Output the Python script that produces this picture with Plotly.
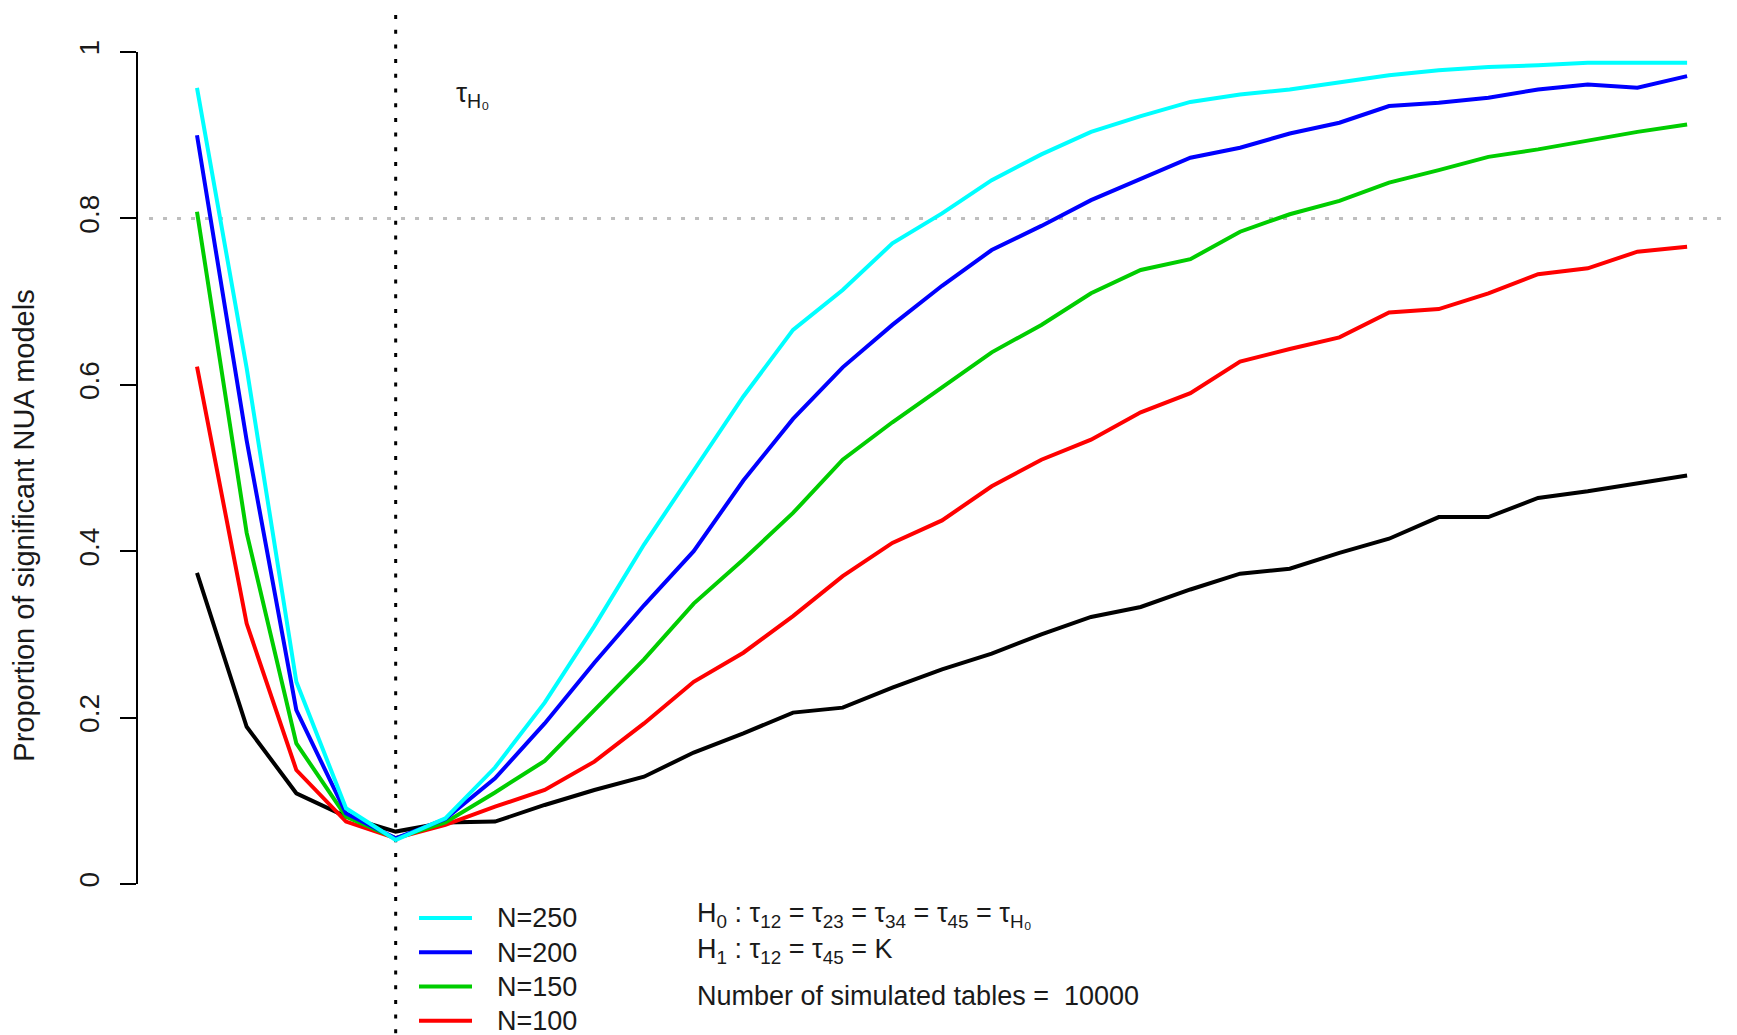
import plotly.graph_objects as go

# ---- data ----
STEP = [0, 1, 2, 3, 4, 5, 6, 7, 8, 9, 10, 11, 12, 13, 14, 15, 16, 17, 18, 19,
        20, 21, 22, 23, 24, 25, 26, 27, 28, 29, 30]

N250 = [0.957, 0.620, 0.243, 0.091, 0.053, 0.079, 0.140, 0.218, 0.310, 0.408,
        0.497, 0.586, 0.666, 0.714, 0.770, 0.806, 0.846, 0.877, 0.904, 0.923,
        0.940, 0.949, 0.955, 0.963, 0.972, 0.978, 0.982, 0.984, 0.987, 0.987, 0.987]
N200 = [0.900, 0.533, 0.209, 0.085, 0.055, 0.078, 0.127, 0.193, 0.266, 0.335,
        0.400, 0.485, 0.559, 0.621, 0.672, 0.719, 0.762, 0.791, 0.822, 0.847,
        0.873, 0.885, 0.902, 0.915, 0.935, 0.939, 0.945, 0.955, 0.961, 0.957, 0.971]
N150 = [0.808, 0.422, 0.169, 0.081, 0.055, 0.074, 0.110, 0.148, 0.209, 0.270,
        0.337, 0.390, 0.446, 0.510, 0.555, 0.597, 0.639, 0.672, 0.710, 0.738,
        0.751, 0.784, 0.805, 0.821, 0.843, 0.858, 0.874, 0.883, 0.894, 0.904, 0.913]
N100 = [0.622, 0.313, 0.137, 0.075, 0.055, 0.071, 0.093, 0.113, 0.147, 0.193,
        0.243, 0.278, 0.322, 0.370, 0.410, 0.437, 0.478, 0.510, 0.534, 0.567,
        0.590, 0.628, 0.643, 0.657, 0.687, 0.691, 0.710, 0.733, 0.740, 0.760, 0.766]
N50 = [0.374, 0.189, 0.109, 0.081, 0.063, 0.074, 0.075, 0.095, 0.113, 0.129,
       0.158, 0.181, 0.206, 0.212, 0.236, 0.258, 0.277, 0.300, 0.321, 0.333,
       0.354, 0.373, 0.379, 0.398, 0.415, 0.441, 0.441, 0.464, 0.472, 0.482, 0.491]

TAU_H0_STEP = 4
POWER_TARGET = 0.8
Y_TICKS = [0, 0.2, 0.4, 0.6, 0.8, 1]
Y_TICK_LABELS = ["0", "0.2", "0.4", "0.6", "0.8", "1"]

SERIES = [
    ("N=50", N50, "#000000", False),
    ("N=100", N100, "#FF0000", True),
    ("N=150", N150, "#00CD00", True),
    ("N=200", N200, "#0000FF", True),
    ("N=250", N250, "#00FFFF", True),
]

FONT = "Liberation Sans, Arial, sans-serif"
TXT = "#1a1a1a"

fig = go.Figure()
for name, vals, color, show in SERIES:
    label = "\u00a0\u00a0\u00a0<span style='font-size:27px'>" + name + "</span>"
    fig.add_trace(go.Scatter(
        x=STEP, y=vals, mode="lines", name=label, showlegend=show,
        line=dict(color=color, width=4),
        hoverinfo="skip",
    ))

# reference lines
fig.add_shape(type="line", xref="x", yref="y", x0=-0.966, x1=31.5,
              y0=POWER_TARGET, y1=POWER_TARGET,
              line=dict(color="#BEBEBE", width=3, dash="4px,10px"), layer="below")
fig.add_shape(type="line", xref="x", yref="y", x0=TAU_H0_STEP, x1=TAU_H0_STEP,
              y0=1.0445, y1=-0.25,
              line=dict(color="#000000", width=3, dash="4px,10.7px"), layer="below")
# R-style axis line spanning only the tick range
fig.add_shape(type="line", xref="paper", yref="y", x0=0, x1=0, y0=0, y1=1,
              line=dict(color="#000000", width=2))

fig.add_annotation(x=TAU_H0_STEP + 1.54, y=0.9495, xref="x", yref="y",
                   text="τ<sub>H₀</sub>", showarrow=False,
                   font=dict(family=FONT, size=28, color=TXT))

PLOT_W = 1737 - 129
notes = [
    "H<sub>0</sub> : τ<sub>12</sub> = τ<sub>23</sub> = τ<sub>34</sub> = τ<sub>45</sub> = τ<sub>H₀</sub>",
    "H<sub>1</sub> : τ<sub>12</sub> = τ<sub>45</sub> = K",
    "Number of simulated tables =\u00a0 10000",
]
note_y = [907, 943, 988]
for t, py in zip(notes, note_y):
    fig.add_annotation(x=(687 - 129) / PLOT_W, y=1 - py / 1035, xref="paper", yref="paper",
                       xanchor="left", yanchor="middle", text=t, showarrow=False,
                       font=dict(family=FONT, size=27, color=TXT))

fig.update_layout(
    width=1737, height=1035,
    margin=dict(l=129, r=0, t=0, b=0),
    paper_bgcolor="white", plot_bgcolor="white",
    font=dict(family=FONT, size=27, color=TXT),
    xaxis=dict(visible=False, range=[-1.208, 31.166]),
    yaxis=dict(
        range=[-0.1911, 1.0529], tickvals=Y_TICKS, ticktext=Y_TICK_LABELS,
        tickangle=-90, ticks="outside", ticklen=16, tickwidth=2, tickcolor="#000000",
        ticklabelstandoff=10,
        showline=False, showgrid=False, zeroline=False,
        tickfont=dict(family=FONT, size=28, color=TXT),
        title=dict(text="Proportion of significant NUA models", standoff=30,
                   font=dict(family=FONT, size=29, color=TXT)),
    ),
    legend=dict(
        x=(406 - 129) / PLOT_W, y=0, xanchor="left", yanchor="bottom",
        traceorder="reversed", itemwidth=53,
        font=dict(family=FONT, size=24, color=TXT),
        bgcolor="rgba(0,0,0,0)",
    ),
    showlegend=True,
)

fig.write_html("out.html")
